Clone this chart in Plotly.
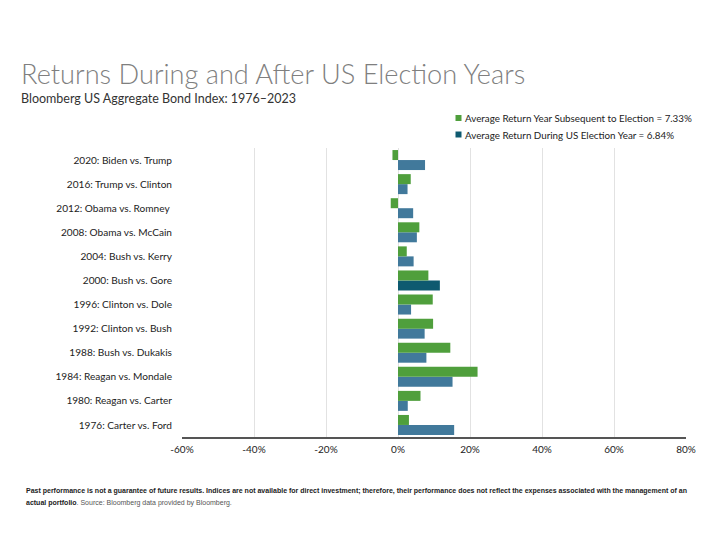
import plotly.graph_objects as go

categories = [
    "1976: Carter vs. Ford", "1980: Reagan vs. Carter", "1984: Reagan vs. Mondale",
    "1988: Bush vs. Dukakis", "1992: Clinton vs. Bush", "1996: Clinton vs. Dole",
    "2000: Bush vs. Gore", "2004: Bush vs. Kerry", "2008: Obama vs. McCain",
    "2012: Obama vs. Romney ", "2016: Trump vs. Clinton", "2020: Biden vs. Trump",
]
election_year = [15.60, 2.71, 15.15, 7.89, 7.40, 3.63, 11.63, 4.34, 5.24, 4.21, 2.65, 7.51]
subsequent_year = [3.04, 6.25, 22.10, 14.53, 9.75, 9.65, 8.44, 2.43, 5.93, -2.02, 3.54, -1.54]
highlight = "2000: Bush vs. Gore"

x_tickvals = [-60, -40, -20, 0, 20, 40, 60, 80]
x_ticktext = ["-60%", "-40%", "-20%", "0%", "20%", "40%", "60%", "80%"]

legend_sub = "Average Return Year Subsequent to Election = 7.33%"
legend_elec = "Average Return During US Election Year = 6.84%"

GREEN = "#4f9f3c"
BLUE = "#41799b"
TEAL = "#0e5a70"

blue_colors = [TEAL if c == highlight else BLUE for c in categories]

fig = go.Figure()
fig.add_trace(go.Bar(y=categories, x=election_year, orientation="h", name=legend_elec,
                     marker=dict(color=blue_colors, line=dict(width=0)),
                     showlegend=False, hoverinfo="x+y"))
fig.add_trace(go.Bar(y=categories, x=subsequent_year, orientation="h", name=legend_sub,
                     marker=dict(color=GREEN, line=dict(width=0)),
                     showlegend=False, hoverinfo="x+y"))

# page body has an 8px margin: figure is 712x532, screen = figure + 8
OFF = 8
W, H = 712, 532
L, T = 182 - OFF, 148 - OFF
R = W - (686 - OFF)
B = H - (437 - OFF)
PW, PH = W - L - R, H - T - B

def px(sx):
    return (sx - OFF - L) / PW

def py(sy):
    return 1 - (sy - OFF - T) / PH

fig.update_layout(
    width=W, height=H,
    margin=dict(l=L, r=R, t=T, b=B, autoexpand=False),
    paper_bgcolor="white", plot_bgcolor="white",
    barmode="group", bargap=0.17, bargroupgap=0,
    font=dict(family="Lato, Noto Sans, sans-serif", color="#222"),
    showlegend=False,
    xaxis=dict(range=[-60, 80], tickvals=x_tickvals, ticktext=x_ticktext,
               showgrid=True, gridcolor="#e2e2e2", gridwidth=1, automargin=False,
               zeroline=False, showline=True, linecolor="#555", linewidth=1.5,
               ticks="", tickfont=dict(size=10, color="#222"), ticklabelstandoff=2,
               fixedrange=True),
    yaxis=dict(type="category", categoryorder="array", categoryarray=categories,
               showgrid=False, zeroline=False, showline=False, ticks="", automargin=False,
               ticklabelstandoff=9,
               tickfont=dict(size=10.1, color="#222")),
)

# legend drawn manually
for i, (txt, col) in enumerate([(legend_sub, GREEN), (legend_elec, TEAL)]):
    yc = 118 + i * 16.5
    fig.add_shape(type="rect", xref="paper", yref="paper",
                  x0=px(455.5), x1=px(461.5), y0=py(yc + 3), y1=py(yc - 3),
                  fillcolor=col, line=dict(width=0))
    fig.add_annotation(text=txt, xref="paper", yref="paper", x=px(463), y=py(yc),
                       xanchor="left", yanchor="middle", showarrow=False,
                       font=dict(size=9.8, color="#222"))

fig.add_annotation(text="Returns During and After US Election Years",
                   xref="paper", yref="paper", x=px(19), y=py(73),
                   xanchor="left", yanchor="middle", showarrow=False,
                   font=dict(size=27.2, color="#7f7f7f", family="Lato, Noto Sans, sans-serif", weight=300))
fig.add_annotation(text="Bloomberg US Aggregate Bond Index: 1976\u20132023",
                   xref="paper", yref="paper", x=px(19), y=py(98),
                   xanchor="left", yanchor="middle", showarrow=False,
                   font=dict(size=12.5, color="#333"))
footer1 = ("<b>Past performance is not a guarantee of future results. Indices are not available for direct investment; "
           "therefore, their performance does not reflect the expenses associated with the management of an</b>")
footer2 = "<b>actual portfolio</b><span style='color:#555'>. Source: Bloomberg data provided by Bloomberg.</span>"
FFONT = "Liberation Sans Narrow, Arial Narrow, Liberation Sans, sans-serif"
fig.add_annotation(text=footer1, xref="paper", yref="paper", x=px(24), y=py(491),
                   xanchor="left", yanchor="middle", showarrow=False, align="left",
                   font=dict(size=7.0, color="#222", family=FFONT))
fig.add_annotation(text=footer2, xref="paper", yref="paper", x=px(24), y=py(503),
                   xanchor="left", yanchor="middle", showarrow=False, align="left",
                   font=dict(size=7.0, color="#222", family=FFONT))

fig.write_html("out.html")
